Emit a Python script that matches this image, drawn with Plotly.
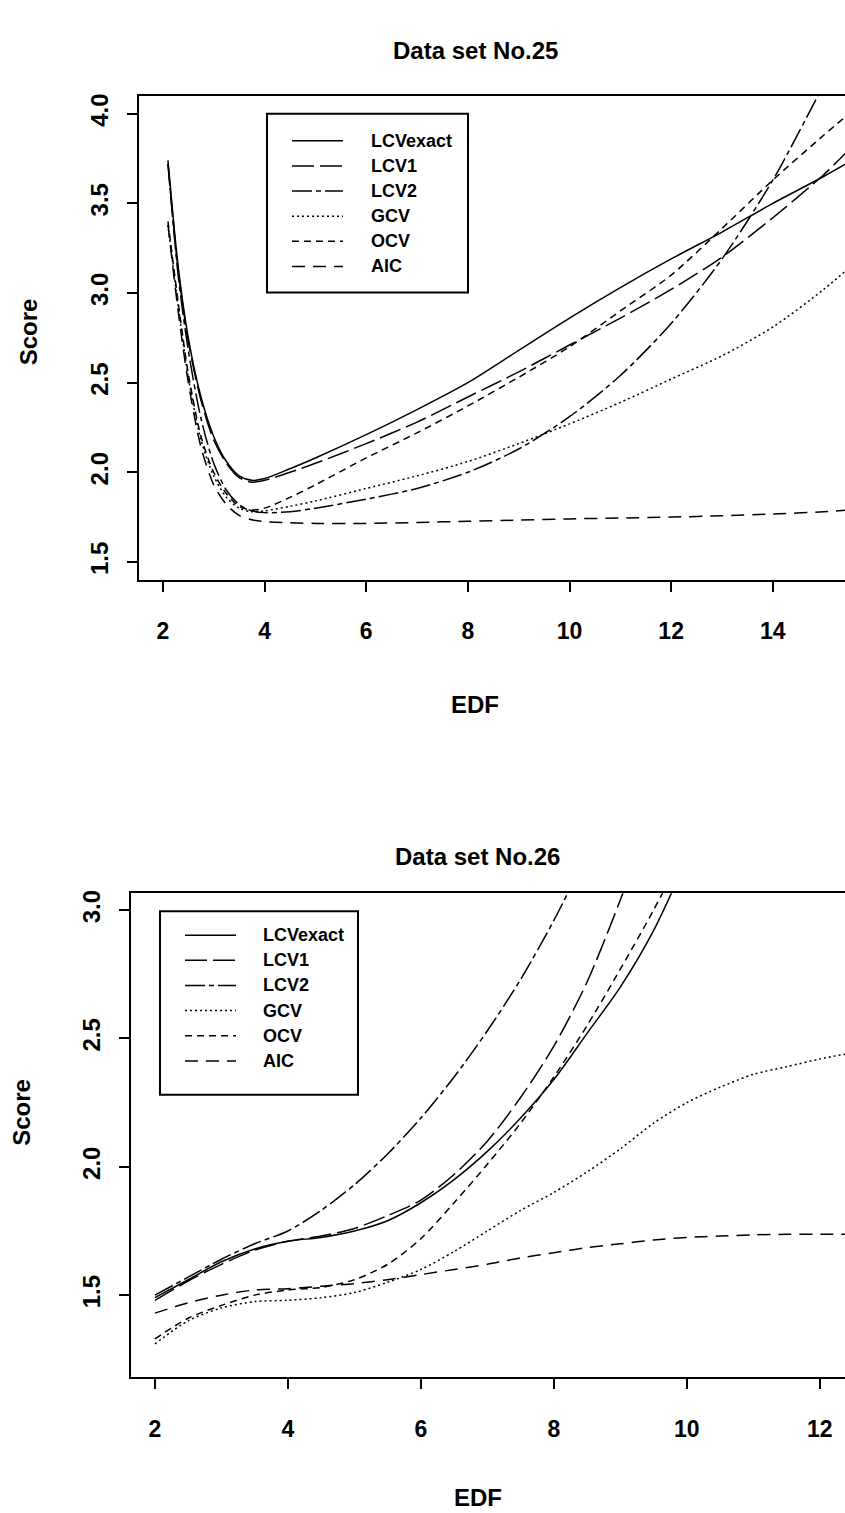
import plotly.graph_objects as go

W, H = 845, 1513
FONT = "Liberation Sans"

# ---- Data set No.25 ----
edf25 = [2.1, 2.3, 2.5, 2.75, 3.0, 3.25, 3.5, 3.75, 4.0, 4.5, 5, 6, 7, 8, 9, 10, 11, 12, 13, 14, 15, 15.5]
lcvexact25 = [3.74, 3.15, 2.75, 2.42, 2.20, 2.06, 1.98, 1.955, 1.965, 2.02, 2.08, 2.21, 2.35, 2.50, 2.68, 2.86, 3.03, 3.19, 3.34, 3.50, 3.65, 3.73]
lcv1_25 = [3.72, 3.13, 2.73, 2.40, 2.18, 2.05, 1.97, 1.945, 1.955, 2.00, 2.05, 2.16, 2.28, 2.42, 2.56, 2.71, 2.86, 3.02, 3.20, 3.42, 3.66, 3.80]
lcv2_25 = [3.72, 3.10, 2.68, 2.30, 2.05, 1.90, 1.82, 1.785, 1.775, 1.78, 1.80, 1.85, 1.91, 2.00, 2.13, 2.31, 2.54, 2.83, 3.19, 3.63, 4.16, 4.42]
gcv25 = [3.38, 2.93, 2.53, 2.18, 1.98, 1.86, 1.80, 1.78, 1.785, 1.81, 1.84, 1.91, 1.98, 2.06, 2.16, 2.27, 2.39, 2.52, 2.65, 2.81, 3.02, 3.14]
ocv25 = [3.40, 2.95, 2.55, 2.20, 2.00, 1.88, 1.81, 1.79, 1.80, 1.86, 1.93, 2.08, 2.22, 2.37, 2.53, 2.70, 2.90, 3.10, 3.36, 3.63, 3.88, 4.00]
aic25 = [3.38, 2.90, 2.50, 2.14, 1.93, 1.82, 1.76, 1.735, 1.725, 1.718, 1.715, 1.715, 1.72, 1.727, 1.733, 1.74, 1.745, 1.75, 1.758, 1.767, 1.78, 1.79]

# ---- Data set No.26 ----
edf26 = [2, 2.5, 3, 3.5, 4, 4.5, 5, 5.5, 6, 6.5, 7, 7.5, 8, 8.5, 9, 9.5, 10, 10.5, 11, 11.5, 12, 12.4]
lcvexact26 = [1.49, 1.56, 1.63, 1.68, 1.71, 1.725, 1.75, 1.79, 1.86, 1.95, 2.06, 2.19, 2.34, 2.52, 2.70, 2.92, 3.20, None, None, None, None, None]
lcv1_26 = [1.48, 1.555, 1.62, 1.675, 1.71, 1.73, 1.76, 1.81, 1.87, 1.97, 2.10, 2.27, 2.47, 2.72, 3.04, 3.40, None, None, None, None, None, None]
lcv2_26 = [1.50, 1.57, 1.64, 1.70, 1.75, 1.83, 1.93, 2.05, 2.19, 2.35, 2.53, 2.73, 2.96, 3.22, None, None, None, None, None, None, None, None]
gcv26 = [1.31, 1.40, 1.45, 1.475, 1.48, 1.49, 1.51, 1.55, 1.60, 1.67, 1.75, 1.83, 1.90, 1.98, 2.07, 2.17, 2.25, 2.31, 2.36, 2.39, 2.42, 2.44]
ocv26 = [1.33, 1.41, 1.46, 1.50, 1.52, 1.53, 1.56, 1.62, 1.72, 1.86, 2.01, 2.17, 2.35, 2.55, 2.77, 3.00, 3.25, None, None, None, None, None]
aic26 = [1.43, 1.47, 1.50, 1.52, 1.525, 1.535, 1.545, 1.56, 1.58, 1.60, 1.62, 1.645, 1.665, 1.685, 1.70, 1.715, 1.725, 1.73, 1.735, 1.737, 1.737, 1.737]

series_names = ["LCVexact", "LCV1", "LCV2", "GCV", "OCV", "AIC"]
dashes = ["solid", "22px,6px", "20px,4px,5px,4px", "2px,3px", "7px,5px", "13px,8px"]

xticks25 = [2, 4, 6, 8, 10, 12, 14]
yticks25 = [1.5, 2.0, 2.5, 3.0, 3.5, 4.0]
xticks26 = [2, 4, 6, 8, 10, 12]
yticks26 = [1.5, 2.0, 2.5, 3.0]


def px(x):
    return x / W


def py(y):
    return 1 - y / H


fig = go.Figure()

panels = [
    ("x", "y", edf25, [lcvexact25, lcv1_25, lcv2_25, gcv25, ocv25, aic25]),
    ("x2", "y2", edf26, [lcvexact26, lcv1_26, lcv2_26, gcv26, ocv26, aic26]),
]
for xa, ya, xs, curves in panels:
    for name, ys, dash in zip(series_names, curves, dashes):
        fig.add_trace(go.Scatter(
            x=xs, y=ys, name=name, mode="lines", xaxis=xa, yaxis=ya,
            line=dict(color="black", width=1.5, dash=dash, shape="spline", smoothing=0.8),
            showlegend=False, connectgaps=False,
        ))

xtickfont = dict(family=FONT, size=23, color="black", weight="bold")
ytickfont = dict(family=FONT, size=24, color="black", weight="bold")
common_x = dict(ticks="outside", ticklen=10, tickwidth=1.5, tickcolor="black",
                showline=True, linecolor="black", linewidth=2, mirror=True,
                showgrid=False, zeroline=False, tickfont=xtickfont, ticklabelstandoff=20)
common_y = dict(ticks="outside", ticklen=10, tickwidth=1.5, tickcolor="black",
                showline=True, linecolor="black", linewidth=2,
                showgrid=False, zeroline=False, tickfont=ytickfont, tickangle=-90,
                ticklabelstandoff=9)

fig.update_layout(
    width=W, height=H,
    margin=dict(l=0, r=0, t=0, b=0),
    paper_bgcolor="white", plot_bgcolor="white",
    xaxis=dict(domain=[px(139), 1], range=[1.53, 15.42], tickvals=xticks25,
               ticktext=[str(v) for v in xticks25], anchor="y", **common_x),
    yaxis=dict(domain=[py(578), py(93)], range=[1.40, 4.10], tickvals=yticks25,
               ticktext=[f"{v:.1f}" for v in yticks25], anchor="x", **common_y),
    xaxis2=dict(domain=[px(131), 1], range=[1.64, 12.38], tickvals=xticks26,
                ticktext=[str(v) for v in xticks26], anchor="y2", **common_x),
    yaxis2=dict(domain=[py(1377), py(892)], range=[1.18, 3.066], tickvals=yticks26,
                ticktext=[f"{v:.1f}" for v in yticks26], anchor="x2", **common_y),
)

annots = []
shapes = []
label_font = dict(family=FONT, size=24, color="black", weight="bold")

# titles and axis labels
for text, cx, cy, ang in [
    ("Data set No.25", 475, 48, 0), ("Data set No.26", 477, 855, 0),
    ("EDF", 475, 703, 0), ("EDF", 478, 1497, 0),
    ("Score", 28, 330, -90), ("Score", 22, 1112, -90),
]:
    annots.append(dict(text=text, x=px(cx), y=py(cy), xref="paper", yref="paper",
                       xanchor="center", yanchor="middle", showarrow=False,
                       textangle=ang, font=label_font))

# legend boxes
legend_font = dict(family=FONT, size=18, color="black", weight="bold")
for (bx0, by0, bx1, by1, sx0, sx1, tx, ey0) in [
    (267, 111, 468, 290, 292, 343, 369, 138),
    (160, 910, 358, 1094, 185, 236, 261, 934),
]:
    shapes.append(dict(type="rect", xref="paper", yref="paper",
                       x0=px(bx0), x1=px(bx1), y0=py(by0), y1=py(by1),
                       line=dict(color="black", width=2), fillcolor="white", layer="above"))
    for i, (name, dash) in enumerate(zip(series_names, dashes)):
        ey = ey0 + i * 25.2
        shapes.append(dict(type="line", xref="paper", yref="paper",
                           x0=px(sx0), x1=px(sx1), y0=py(ey), y1=py(ey),
                           line=dict(color="black", width=1.5, dash=dash), layer="above"))
        annots.append(dict(text=name, x=px(tx), y=py(ey), xref="paper", yref="paper",
                           xanchor="left", yanchor="middle", showarrow=False,
                           font=legend_font))

fig.update_layout(annotations=annots, shapes=shapes)
fig.write_html("out.html")
